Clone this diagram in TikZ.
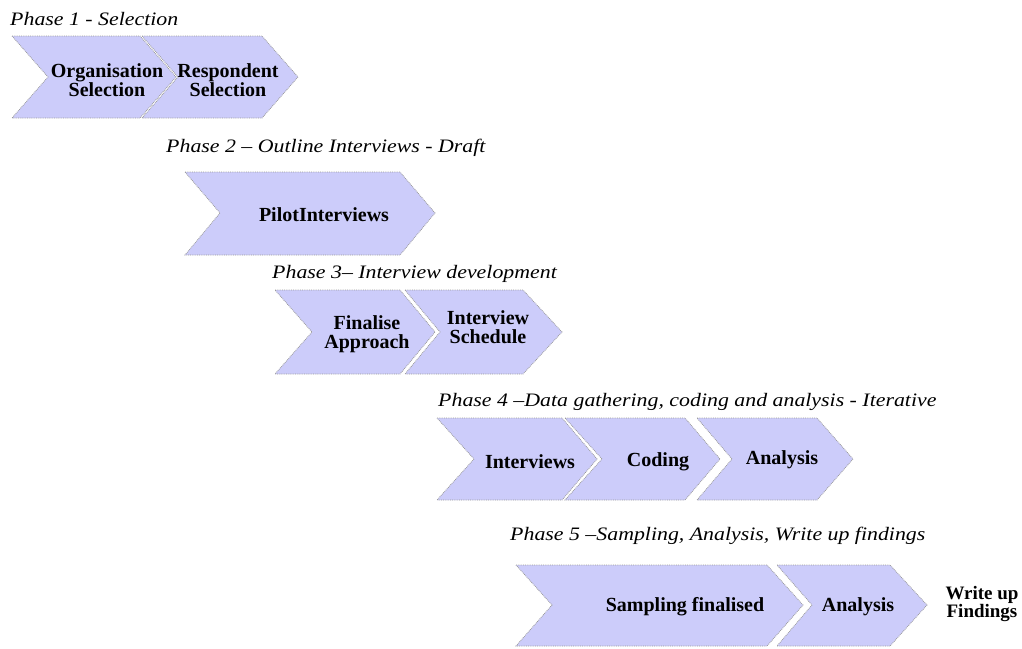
\documentclass[tikz,border=0pt]{standalone}
\usepackage{fontspec}
\setmainfont{Liberation Serif}
\definecolor{lav}{RGB}{204,204,250}

\begin{document}
\begin{tikzpicture}[x=1pt,y=-1pt,
    chev/.style={fill=lav,draw=black!40,densely dotted,line width=0.8pt},
    lab/.style={font=\fontsize{20}{19.5}\selectfont\bfseries,align=center,inner sep=0pt},
    phase/.style={font=\fontsize{19}{19}\selectfont\itshape,anchor=base west,inner sep=0pt,xscale=1.15}]
        \useasboundingbox(0,0)rectangle(1022,648);

        % phase 1
        \node[phase](p1)at(10,25){Phase 1 - Selection};
        \draw[chev](12,36)--(140,36)--(176,77)--(140,118)--(12,118)--(48,77)--cycle;
        \draw[chev](142,36)--(262,36)--(298,77)--(262,118)--(142,118)--(178,77)--cycle;
        \node[lab](org)at(107,80){Organisation\\Selection};
        \node[lab](resp)at(228,80){Respondent\\Selection};

        % phase 2
        \node[phase](p2)at(166,152){Phase 2 -- Outline Interviews - Draft};
        \draw[chev](185,172)--(400,172)--(435,213)--(400,255)--(185,255)--(220,213)--cycle;
        \node[lab](pilot)at(324,215){PilotInterviews};

        % phase 3
        \node[phase](p3)at(272,278){Phase 3-- Interview development};
        \draw[chev](275,290)--(400,290)--(435,332)--(400,374)--(275,374)--(312,332)--cycle;
        \node[lab](fin)at(367,334){Finalise\\Approach};
        \draw[chev](405,290)--(523,290)--(562,332)--(523,374)--(405,374)--(440,332)--cycle;
        \node[lab](sched)at(488,327){Interview\\Schedule};

        % phase 4
        \node[phase](p4)at(438,406){Phase 4 --Data gathering, coding and analysis - Iterative};
        \draw[chev](437,418)--(562,418)--(597,459)--(562,500)--(437,500)--(474,459)--cycle;
        \node[lab](intv)at(530,462){Interviews};
        \draw[chev](565,418)--(685,418)--(720,459)--(685,500)--(565,500)--(602,459)--cycle;
        \node[lab](cod)at(658,462){Coding};
        \draw[chev](697,418)--(817,418)--(853,459)--(817,500)--(697,500)--(732,459)--cycle;
        \node[lab](ana1)at(782,460){Analysis};

        % phase 5
        \node[phase](p5)at(510,540){Phase 5 --Sampling, Analysis, Write up findings};
        \draw[chev](516,565)--(767,565)--(803,605)--(767,646)--(516,646)--(552,605)--cycle;
        \node[lab](samp)at(685,607){Sampling finalised};
        \draw[chev](777,565)--(890,565)--(927,605)--(890,646)--(777,646)--(812,605)--cycle;
        \node[lab](ana2)at(858,607){Analysis};
        \node[lab,font=\fontsize{19}{16}\selectfont\bfseries](write)at(982,604){Write up\\Findings};
    \end{tikzpicture}
\end{document}
